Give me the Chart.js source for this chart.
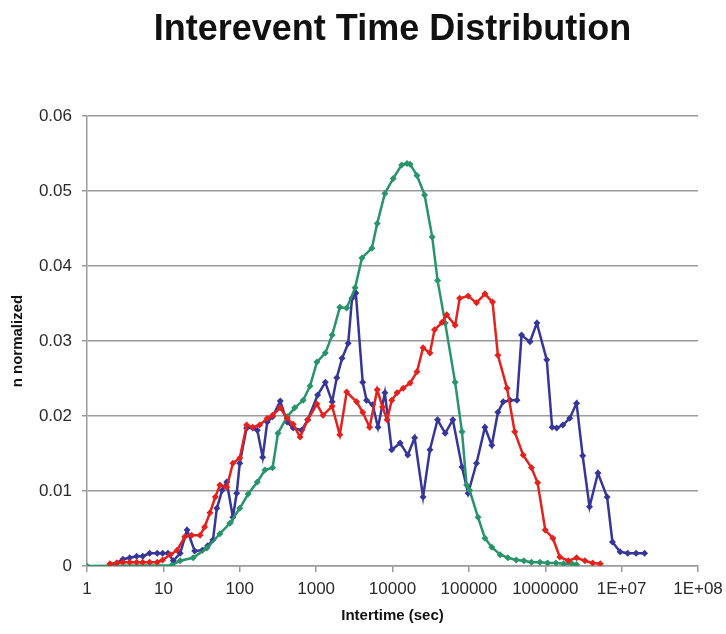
<!DOCTYPE html>
<html>
<head>
<meta charset="utf-8">
<script src="https://cdn.jsdelivr.net/npm/chart.js@4.4.1/dist/chart.umd.min.js"></script>
<style>
  html, body { margin: 0; padding: 0; background: #fff; }
  #wrap { width: 726px; height: 634px; }
</style>
</head>
<body>
<div id="wrap"><canvas id="chart" width="726" height="634"></canvas></div>
<script>
// x values are log10(intertime in sec)
const xTickLabels = ['1', '10', '100', '1000', '10000', '100000', '1000000', '1E+07', '1E+08'];
const yTickLabels = ['0', '0.01', '0.02', '0.03', '0.04', '0.05', '0.06'];

const greenLogT = [0.00, 1.11, 1.22, 1.39, 1.57, 1.74, 1.87, 2.00, 2.11, 2.23, 2.33, 2.43, 2.50, 2.62, 2.72, 2.83,
  2.92, 3.01, 3.12, 3.21, 3.31, 3.40, 3.51, 3.60, 3.73, 3.80, 3.90, 4.01, 4.12, 4.19, 4.23, 4.32, 4.42, 4.52,
  4.59, 4.69, 4.82, 4.91, 4.97, 5.01, 5.12, 5.21, 5.30, 5.41, 5.51, 5.62, 5.72, 5.82, 5.93, 6.03, 6.14, 6.24,
  6.35, 6.41];
const greenN = [0, 0.0001, 0.0007, 0.0011, 0.0024, 0.0043, 0.0057, 0.0077, 0.0096, 0.0112, 0.0128, 0.0131, 0.0177,
  0.0199, 0.0211, 0.0221, 0.0240, 0.0272, 0.0284, 0.0308, 0.0345, 0.0344, 0.0371, 0.0411, 0.0424, 0.0457, 0.0497,
  0.0517, 0.0535, 0.0537, 0.0536, 0.0521, 0.0495, 0.0439, 0.0381, 0.0324, 0.0245, 0.0179, 0.0108, 0.0101, 0.0065,
  0.0037, 0.0025, 0.0015, 0.0011, 0.0008, 0.0007, 0.0005, 0.0005, 0.0004, 0.0004, 0.0003, 0.0003, 0.0002];

const redLogT = [0.30, 0.39, 0.47, 0.56, 0.65, 0.73, 0.82, 0.92, 0.99, 1.09, 1.18, 1.28, 1.37, 1.48, 1.54, 1.61,
  1.68, 1.74, 1.83, 1.91, 2.00, 2.09, 2.17, 2.26, 2.36, 2.43, 2.53, 2.62, 2.70, 2.79, 2.89, 3.01, 3.09, 3.21,
  3.31, 3.40, 3.53, 3.61, 3.70, 3.80, 3.87, 3.93, 3.99, 4.06, 4.14, 4.23, 4.32, 4.40, 4.49, 4.55, 4.65, 4.71,
  4.82, 4.88, 4.99, 5.10, 5.21, 5.31, 5.38, 5.50, 5.60, 5.71, 5.82, 5.90, 6.00, 6.10, 6.19, 6.30, 6.41, 6.52,
  6.62, 6.72];
const redN = [0.0003, 0.0004, 0.0005, 0.0005, 0.0005, 0.0005, 0.0005, 0.0005, 0.0008, 0.0015, 0.0021, 0.0039,
  0.0041, 0.0041, 0.0052, 0.0071, 0.0092, 0.0108, 0.0105, 0.0137, 0.0144, 0.0188, 0.0185, 0.0188, 0.0197, 0.0201,
  0.0211, 0.0197, 0.0189, 0.0172, 0.0195, 0.0216, 0.0201, 0.0213, 0.0175, 0.0232, 0.0219, 0.0205, 0.0185, 0.0235,
  0.0212, 0.0195, 0.0221, 0.0231, 0.0237, 0.0244, 0.0259, 0.0291, 0.0284, 0.0315, 0.0325, 0.0335, 0.0321, 0.0357,
  0.0360, 0.0351, 0.0363, 0.0352, 0.0281, 0.0237, 0.0179, 0.0148, 0.0131, 0.0111, 0.0048, 0.0037, 0.0012, 0.0007,
  0.0011, 0.0007, 0.0004, 0.0003];

const blueLogT = [0.30, 0.39, 0.47, 0.56, 0.65, 0.73, 0.82, 0.92, 0.99, 1.06, 1.13, 1.22, 1.31, 1.41, 1.51, 1.58,
  1.65, 1.70, 1.77, 1.83, 1.91, 1.96, 2.00, 2.09, 2.17, 2.23, 2.30, 2.36, 2.43, 2.53, 2.62, 2.70, 2.81, 2.89,
  3.02, 3.12, 3.21, 3.27, 3.34, 3.42, 3.47, 3.52, 3.61, 3.66, 3.74, 3.81, 3.90, 3.99, 4.10, 4.20, 4.29, 4.40,
  4.49, 4.59, 4.69, 4.79, 4.91, 4.99, 5.10, 5.21, 5.30, 5.38, 5.45, 5.54, 5.63, 5.69, 5.80, 5.89, 6.02, 6.09,
  6.15, 6.23, 6.32, 6.41, 6.49, 6.58, 6.69, 6.81, 6.88, 6.98, 7.08, 7.19, 7.30];
const blueN = [0.0001, 0.0004, 0.0009, 0.0011, 0.0013, 0.0013, 0.0017, 0.0017, 0.0017, 0.0017, 0.0007, 0.0017,
  0.0048, 0.0020, 0.0021, 0.0027, 0.0035, 0.0077, 0.0101, 0.0112, 0.0065, 0.0097, 0.0137, 0.0184, 0.0184, 0.0181,
  0.0145, 0.0192, 0.0199, 0.0220, 0.0192, 0.0184, 0.0181, 0.0195, 0.0228, 0.0245, 0.0219, 0.0251, 0.0277, 0.0297,
  0.0357, 0.0364, 0.0245, 0.0221, 0.0215, 0.0185, 0.0231, 0.0155, 0.0164, 0.0148, 0.0171, 0.0092, 0.0155, 0.0195,
  0.0177, 0.0195, 0.0132, 0.0097, 0.0137, 0.0185, 0.0161, 0.0205, 0.0219, 0.0221, 0.0221, 0.0308, 0.0299, 0.0324,
  0.0275, 0.0185, 0.0184, 0.0188, 0.0197, 0.0217, 0.0147, 0.0079, 0.0124, 0.0092, 0.0032, 0.0019, 0.0017, 0.0017,
  0.0017];

const FONT = "'Liberation Sans', Arial, sans-serif";
const GRID = '#9a9a9a';

function series(xs, ys, color) {
    return {
        data: xs.map((x, i) => ({ x: x, y: ys[i] })),
        showLine: true,
        borderColor: color,
        backgroundColor: color,
        borderWidth: 2.5,
        pointStyle: 'rectRot',
        pointRadius: 3.5,
        pointBorderWidth: 0,
        tension: 0
    };
}

new Chart(document.getElementById('chart'), {
    type: 'scatter',
    data: {
        datasets: [
            series(redLogT, redN, '#e4211c'),
            series(greenLogT, greenN, '#27946a'),
            series(blueLogT, blueN, '#36369a')
        ]
    },
    options: {
        responsive: false,
        animation: false,
        layout: { padding: { left: 0, right: 28, top: 0, bottom: 0 } },
        plugins: {
            legend: { display: false },
            tooltip: { enabled: false },
            title: {
                display: true,
                text: 'Interevent Time Distribution',
                fullSize: false,
                color: '#111',
                font: { family: FONT, size: 36, weight: 'bold' },
                padding: { top: 8, bottom: 65 }
            }
        },
        scales: {
            x: {
                type: 'linear',
                min: 0,
                max: 8,
                afterBuildTicks: axis => {
                    axis.ticks = xTickLabels.map((_, i) => ({ value: i }));
                },
                afterFit: axis => {
                    axis.height = 68;
                    axis.paddingLeft = 0;
                    axis.paddingRight = 0;
                },
                ticks: {
                    autoSkip: false,
                    maxRotation: 0,
                    padding: 7,
                    color: '#2a2a2a',
                    font: { family: FONT, size: 17 },
                    callback: value => xTickLabels[Math.round(value)]
                },
                grid: {
                    drawOnChartArea: false,
                    drawTicks: true,
                    tickLength: 6,
                    color: GRID,
                    lineWidth: 1.5
                },
                border: { color: GRID, width: 1.5 },
                title: {
                    display: true,
                    text: 'Intertime (sec)',
                    color: '#111',
                    font: { family: FONT, size: 15, weight: 'bold' },
                    padding: 9
                }
            },
            y: {
                min: 0,
                max: 0.06,
                afterBuildTicks: axis => {
                    axis.ticks = yTickLabels.map((_, i) => ({ value: i / 100 }));
                },
                afterFit: axis => {
                    axis.width = 87;
                },
                ticks: {
                    padding: 10,
                    color: '#2a2a2a',
                    font: { family: FONT, size: 17 },
                    callback: value => yTickLabels[Math.round(value * 100)]
                },
                grid: {
                    color: GRID,
                    lineWidth: 1.5,
                    tickLength: 5
                },
                border: { color: GRID, width: 1.5 },
                title: {
                    display: true,
                    text: 'n normalized',
                    color: '#111',
                    font: { family: FONT, size: 15, weight: 'bold' },
                    padding: 9
                }
            }
        }
    }
});
</script>
</body>
</html>
